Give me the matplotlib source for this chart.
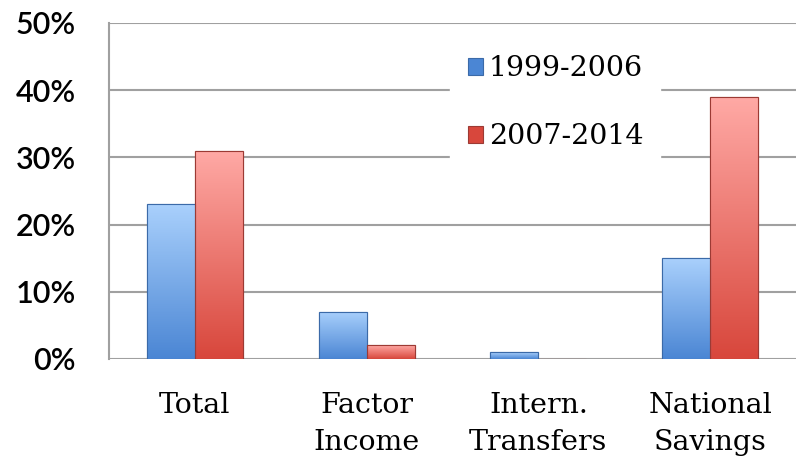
import numpy as np
import matplotlib.pyplot as plt
from matplotlib.colors import LinearSegmentedColormap

categories = ["Total", "Factor\nIncome", "Intern.\nTransfers", "National\nSavings"]
series_names = ["1999-2006", "2007-2014"]
values_early = [23, 7, 1, 15]
values_late = [31, 2, 0, 39]
y_ticks = [0, 10, 20, 30, 40, 50]

colors = [("#a9d0fc", "#4b86d4", "#3b6aa8"), ("#ffa9a5", "#d8473c", "#9c3a34")]

fig = plt.figure(figsize=(7.96, 4.59), dpi=100)
ax = fig.add_axes([0.137, 0.218, 0.863, 0.732])

x = np.arange(len(categories))
w = 0.28
grad = np.linspace(0, 1, 100).reshape(-1, 1)

for i, (vals, name) in enumerate(zip([values_early, values_late], series_names)):
    top, bot, edge = colors[i]
    bars = ax.bar(x + (i - 0.5) * w, vals, w, color=bot, edgecolor=edge,
                  linewidth=0.8, label=name, zorder=3)
    cmap = LinearSegmentedColormap.from_list("g%d" % i, [bot, top])
    for b in bars:
        if b.get_height() <= 0:
            continue
        x0, y0 = b.get_x(), b.get_y()
        im = ax.imshow(grad, cmap=cmap, origin="lower", aspect="auto",
                       extent=[x0, x0 + b.get_width(), y0, y0 + b.get_height()],
                       zorder=3.5)
        im.set_clip_path(b)
        ax.bar(b.get_x() + b.get_width() / 2, b.get_height(), b.get_width(),
               fill=False, edgecolor=edge, linewidth=0.8, zorder=4)

ax.set_xlim(-0.5, len(categories) - 0.5)
ax.set_ylim(0, 50)
ax.set_yticks(y_ticks)
ax.set_yticklabels(["%d%%" % t for t in y_ticks], fontsize=22, family="Lato",
                   fontweight="semibold")
ax.yaxis.grid(True, color="#a0a0a0", linewidth=1.5, zorder=0)
ax.set_axisbelow(True)
ax.set_xticks(x)
ax.set_xticklabels(categories, fontsize=20.5, family="DejaVu Serif", linespacing=1.45)
ax.tick_params(axis="y", length=0, pad=24)
ax.tick_params(axis="x", length=0, pad=24)
for s in ["top", "right", "bottom"]:
    ax.spines[s].set_visible(False)
ax.spines["left"].set_color("#a0a0a0")
ax.spines["left"].set_linewidth(1.5)

leg = ax.legend(loc="upper left", bbox_to_anchor=(0.497, 0.955), frameon=True,
                fancybox=False, edgecolor="white", framealpha=1,
                prop={"family": "DejaVu Serif", "size": 20.5},
                handlelength=0.55, handleheight=0.55, handletextpad=0.2,
                labelspacing=1.45, borderpad=0.6, borderaxespad=0)

fig.savefig("out.png", dpi=100)
